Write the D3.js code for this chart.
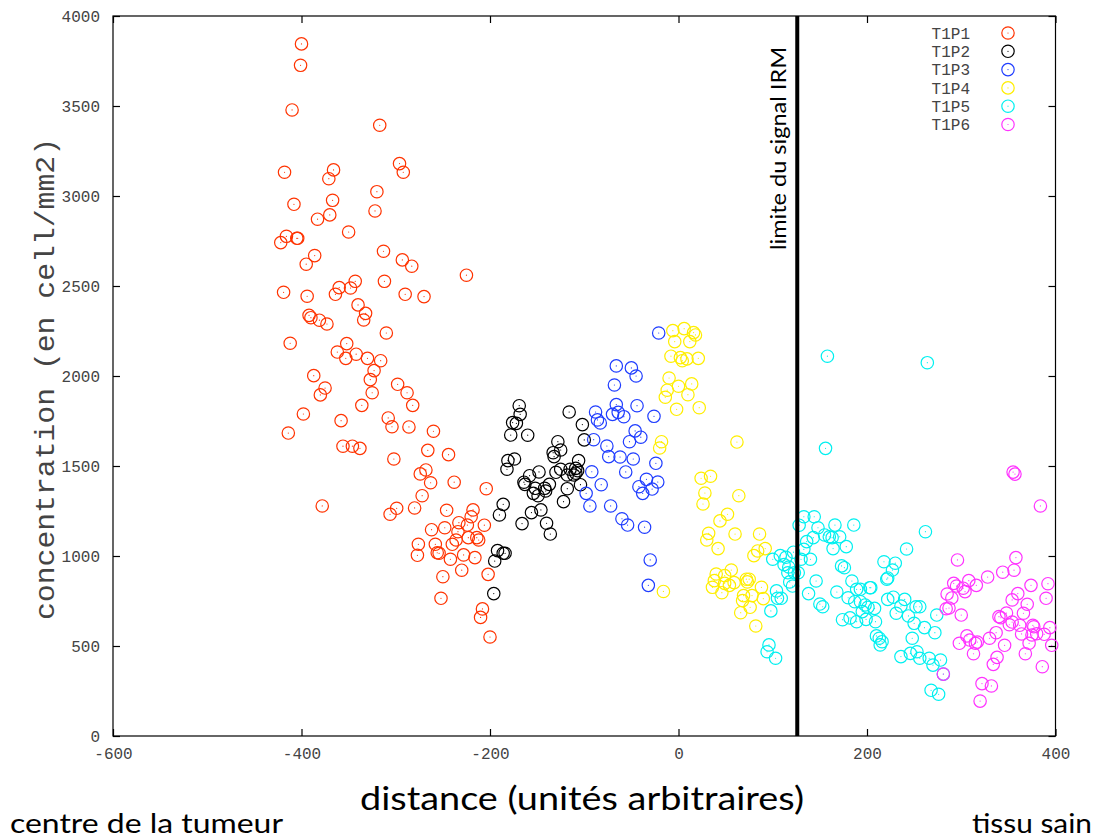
<!DOCTYPE html>
<html>
<head>
<meta charset="utf-8">
<script src="https://cdn.jsdelivr.net/npm/d3@7/dist/d3.min.js"></script>
<style>
  body { margin: 0; background: #fff; }
  svg { display: block; }
  .tick-label { font-family: 'Liberation Mono', 'DejaVu Sans Mono', monospace; font-size: 16px; fill: #444; }
  .key-label { font-family: 'Liberation Mono', 'DejaVu Sans Mono', monospace; font-size: 16px; fill: #444; }
  .gill { font-family: Lato, 'Open Sans', sans-serif; fill: #000; }
</style>
</head>
<body>
<div id="chart"></div>
<script>
// series names + colours
const seriesNames = ['T1P1', 'T1P2', 'T1P3', 'T1P4', 'T1P5', 'T1P6']
const seriesColors = ['#ff3300', '#000000', '#1f3dff', '#ffee00', '#00f0f0', '#ff33ff']

// [distance, concentration]
const t1p1 = [[-400,3845],[-401,3726],[-410,3478],[-317,3393],[-418,3132],[-366,3145],[-371,3096],[-296,3180],[-292,3132],[-320,3024],
  [-408,2954],[-367,2976],[-322,2917],[-370,2895],[-383,2871],[-350,2800],[-416,2776],[-422,2741],[-405,2765],[-404,2765],
  [-313,2693],[-386,2669],[-395,2621],[-293,2645],[-283,2610],[-225,2560],[-419,2465],[-394,2443],[-360,2491],[-364,2454],
  [-343,2526],[-348,2489],[-312,2526],[-290,2454],[-270,2441],[-340,2395],[-332,2348],[-334,2311],[-392,2337],[-390,2324],
  [-381,2310],[-373,2289],[-310,2239],[-412,2182],[-352,2180],[-362,2133],[-353,2098],[-342,2121],[-330,2098],[-316,2085],
  [-323,2030],[-327,1980],[-325,1907],[-387,2002],[-375,1933],[-380,1895],[-298,1954],[-288,1907],[-282,1837],[-336,1837],
  [-398,1789],[-414,1683],[-358,1752],[-308,1767],[-304,1718],[-286,1717],[-260,1693],[-356,1610],[-346,1610],[-338,1598],
  [-266,1587],[-244,1563],[-302,1539],[-268,1478],[-274,1456],[-263,1407],[-238,1410],[-204,1374],[-272,1335],[-378,1278],
  [-299,1265],[-306,1232],[-280,1267],[-246,1254],[-218,1256],[-220,1218],[-224,1172],[-206,1171],[-233,1185],[-248,1157],
  [-262,1146],[-234,1135],[-236,1089],[-240,1065],[-223,1102],[-214,1102],[-212,1089],[-276,1065],[-258,1065],[-256,1018],
  [-254,1015],[-277,1004],[-242,982],[-228,1006],[-216,991],[-230,921],[-250,885],[-202,898],[-252,765],[-208,706],
  [-210,659],[-200,550]]
const t1p2 = [[-169,1835],[-168,1787],[-176,1741],[-172,1737],[-178,1672],[-160,1671],[-116,1800],[-102,1730],[-100,1645],[-128,1635],
  [-125,1589],[-133,1574],[-132,1552],[-106,1530],[-181,1530],[-174,1539],[-182,1482],[-148,1467],[-158,1446],[-163,1398],
  [-164,1410],[-130,1465],[-125,1482],[-115,1482],[-109,1487],[-107,1474],[-118,1450],[-111,1450],[-109,1460],[-137,1398],
  [-152,1376],[-154,1348],[-149,1335],[-142,1376],[-141,1361],[-118,1374],[-104,1396],[-122,1302],[-186,1287],[-190,1228],
  [-156,1241],[-146,1256],[-166,1180],[-140,1182],[-136,1122],[-192,1030],[-186,1015],[-184,1015],[-195,972],[-196,791]]
const t1p3 = [[-21,2239],[-66,2056],[-50,2045],[-45,2000],[-68,1950],[-88,1800],[-86,1756],[-83,1739],[-66,1841],[-70,1787],
  [-64,1798],[-58,1774],[-44,1835],[-26,1776],[-46,1695],[-40,1660],[-52,1635],[-90,1646],[-76,1611],[-74,1552],
  [-62,1550],[-48,1539],[-24,1515],[-56,1467],[-92,1468],[-82,1396],[-98,1348],[-34,1426],[-42,1385],[-38,1348],
  [-28,1372],[-22,1411],[-94,1278],[-72,1278],[-60,1207],[-54,1172],[-36,1160],[-30,978],[-32,837]]
const t1p4 = [[-6,2252],[6,2263],[16,2241],[18,2228],[-4,2191],[12,2191],[-8,2110],[2,2102],[4,2085],[9,2095],
  [21,2098],[-10,1989],[0,1943],[14,1956],[-12,1921],[-14,1882],[10,1896],[-2,1815],[22,1824],[-18,1635],
  [-20,1600],[62,1633],[24,1432],[34,1443],[28,1350],[26,1289],[64,1335],[52,1232],[44,1195],[32,1126],
  [30,1089],[60,1122],[86,1122],[42,1041],[92,1041],[84,1028],[80,1002],[40,900],[56,922],[49,891],
  [38,863],[36,826],[46,796],[49,848],[54,837],[59,852],[72,871],[75,871],[73,856],[-16,803],
  [88,826],[90,763],[78,780],[69,780],[68,752],[76,715],[66,685],[82,611]]
const t1p5 = [[158,2110],[264,2074],[156,1598],[133,1218],[144,1218],[128,1171],[148,1157],[155,1117],[160,1107],[163,1102],
  [166,1172],[171,1107],[186,1172],[143,1102],[136,1080],[133,1037],[164,1041],[178,1052],[100,982],[108,1002],
  [114,993],[122,1021],[112,952],[117,939],[130,982],[140,982],[116,907],[123,907],[127,907],[118,856],
  [121,833],[173,945],[176,935],[184,861],[189,815],[146,861],[138,791],[168,800],[180,768],[187,746],
  [104,806],[105,765],[109,765],[98,695],[150,733],[153,718],[174,646],[182,656],[189,635],[96,506],
  [94,468],[103,432],[262,1135],[242,1039],[218,968],[230,960],[227,922],[222,878],[221,871],[193,815],
  [203,824],[204,824],[193,746],[198,728],[201,715],[208,709],[195,691],[222,759],[228,771],[240,759],
  [236,722],[231,682],[252,718],[256,718],[244,667],[250,626],[199,648],[209,635],[261,602],[272,574],
  [274,672],[210,556],[213,543],[216,524],[214,506],[248,543],[236,441],[246,459],[253,468],[256,432],
  [266,432],[278,422],[270,394],[281,344],[268,254],[276,232]]
const t1p6 = [[355,1466],[357,1455],[384,1278],[296,978],[358,991],[356,921],[344,910],[328,883],[292,848],[295,833],
  [308,863],[316,837],[302,821],[304,802],[285,789],[290,767],[374,837],[392,846],[284,707],[287,711],
  [300,672],[360,791],[354,756],[390,765],[370,732],[366,682],[348,683],[340,663],[342,657],[351,618],
  [362,615],[376,615],[377,607],[354,633],[394,602],[380,568],[388,565],[364,567],[375,561],[337,574],
  [330,543],[306,556],[309,533],[317,522],[315,515],[298,515],[313,457],[396,504],[346,504],[372,515],
  [368,457],[338,437],[334,398],[386,385],[281,344],[322,291],[332,278],[320,194]]

const xTicks = [-600, -400, -200, 0, 200, 400]
const yTicks = [0, 500, 1000, 1500, 2000, 2500, 3000, 3500, 4000]
const irmLimit = 126

const W = 1096, H = 840
const margin = {top: 16, right: 40.5, bottom: 104, left: 113}
const width = W - margin.left - margin.right
const height = H - margin.top - margin.bottom

const svg = d3.select('#chart').append('svg')
  .attr('width', W)
  .attr('height', H)

const x = d3.scaleLinear().domain([-600, 400]).range([0, width])
const y = d3.scaleLinear().domain([0, 4000]).range([height, 0])

const g = svg.append('g')
  .attr('transform', `translate(${margin.left},${margin.top})`)

// frame
g.append('rect')
  .attr('width', width).attr('height', height)
  .attr('fill', 'none').attr('stroke', '#000').attr('stroke-width', 1.2)

// mirrored inward ticks
const tickLen = 7
const fmt = d3.format('d')
const bottomAxis = g.append('g').attr('transform', `translate(0,${height})`)
  .call(d3.axisBottom(x).tickValues(xTicks).tickFormat(fmt).tickSizeInner(-tickLen).tickSizeOuter(0).tickPadding(12))
const topAxis = g.append('g')
  .call(d3.axisTop(x).tickValues(xTicks).tickSizeInner(-tickLen).tickSizeOuter(0).tickFormat(''))
const leftAxis = g.append('g')
  .call(d3.axisLeft(y).tickValues(yTicks).tickFormat(fmt).tickSizeInner(-tickLen).tickSizeOuter(0).tickPadding(13))
const rightAxis = g.append('g').attr('transform', `translate(${width},0)`)
  .call(d3.axisRight(y).tickValues(yTicks).tickSizeInner(-tickLen).tickSizeOuter(0).tickFormat(''))

;[bottomAxis, topAxis, leftAxis, rightAxis].forEach(a => {
  a.select('.domain').remove()
  a.selectAll('line').attr('stroke', '#000').attr('stroke-width', 1.2)
  a.selectAll('text').attr('class', 'tick-label').attr('fill', null).attr('font-size', null).attr('font-family', null)
})
bottomAxis.selectAll('text').text(d => d < 0 ? '-' + Math.abs(d) : d)

// points
const allSeries = [t1p1, t1p2, t1p3, t1p4, t1p5, t1p6]
allSeries.forEach((data, i) => {
  const sg = g.append('g').attr('class', 'series')
  sg.selectAll('circle.ring')
    .data(data)
    .join('circle')
    .attr('class', 'ring')
    .attr('cx', d => x(d[0]))
    .attr('cy', d => y(d[1]))
    .attr('r', 6.2)
    .attr('fill', 'none')
    .attr('stroke', seriesColors[i])
    .attr('stroke-width', 1.2)
  sg.selectAll('circle.dot')
    .data(data)
    .join('circle')
    .attr('class', 'dot')
    .attr('cx', d => x(d[0]))
    .attr('cy', d => y(d[1]))
    .attr('r', 0.6)
    .attr('fill', seriesColors[i])
})

// limite du signal IRM
g.append('line')
  .attr('x1', x(irmLimit)).attr('x2', x(irmLimit))
  .attr('y1', 0).attr('y2', height)
  .attr('stroke', '#000').attr('stroke-width', 4)
g.append('text')
  .attr('class', 'gill')
  .attr('transform', `translate(${x(irmLimit) - 11},${250 - margin.top}) rotate(-90)`)
  .attr('font-size', 22)
  .attr('textLength', 203)
  .attr('lengthAdjust', 'spacingAndGlyphs')
  .text('limite du signal IRM')

// key
const key = svg.append('g').attr('transform', 'translate(970,33)')
seriesNames.forEach((name, i) => {
  const row = key.append('g').attr('transform', `translate(0,${i * 18.3})`)
  row.append('text')
    .attr('class', 'key-label')
    .attr('text-anchor', 'end')
    .attr('dy', '0.35em')
    .text(name)
  row.append('circle')
    .attr('cx', 38).attr('r', 6.2)
    .attr('fill', 'none').attr('stroke', seriesColors[i]).attr('stroke-width', 1.2)
  row.append('circle')
    .attr('cx', 38).attr('r', 0.6).attr('fill', seriesColors[i])
})

// axis titles
svg.append('text')
  .attr('transform', 'translate(54,379) rotate(-90)')
  .attr('text-anchor', 'middle')
  .attr('font-family', "'Liberation Mono', monospace")
  .attr('font-size', 28)
  .attr('fill', '#444')
  .attr('textLength', 482)
  .attr('lengthAdjust', 'spacingAndGlyphs')
  .text('concentration (en cell/mm2)')

svg.append('text')
  .attr('class', 'gill')
  .attr('x', 582).attr('y', 810)
  .attr('text-anchor', 'middle')
  .attr('font-size', 32)
  .attr('textLength', 444)
  .attr('lengthAdjust', 'spacingAndGlyphs')
  .text('distance (unités arbitraires)')

svg.append('text')
  .attr('class', 'gill')
  .attr('x', 10).attr('y', 833)
  .attr('font-size', 26)
  .attr('textLength', 273)
  .attr('lengthAdjust', 'spacingAndGlyphs')
  .text('centre de la tumeur')

svg.append('text')
  .attr('class', 'gill')
  .attr('x', 972).attr('y', 833)
  .attr('font-size', 26)
  .attr('textLength', 120)
  .attr('lengthAdjust', 'spacingAndGlyphs')
  .text('tissu sain')
</script>
</body>
</html>
